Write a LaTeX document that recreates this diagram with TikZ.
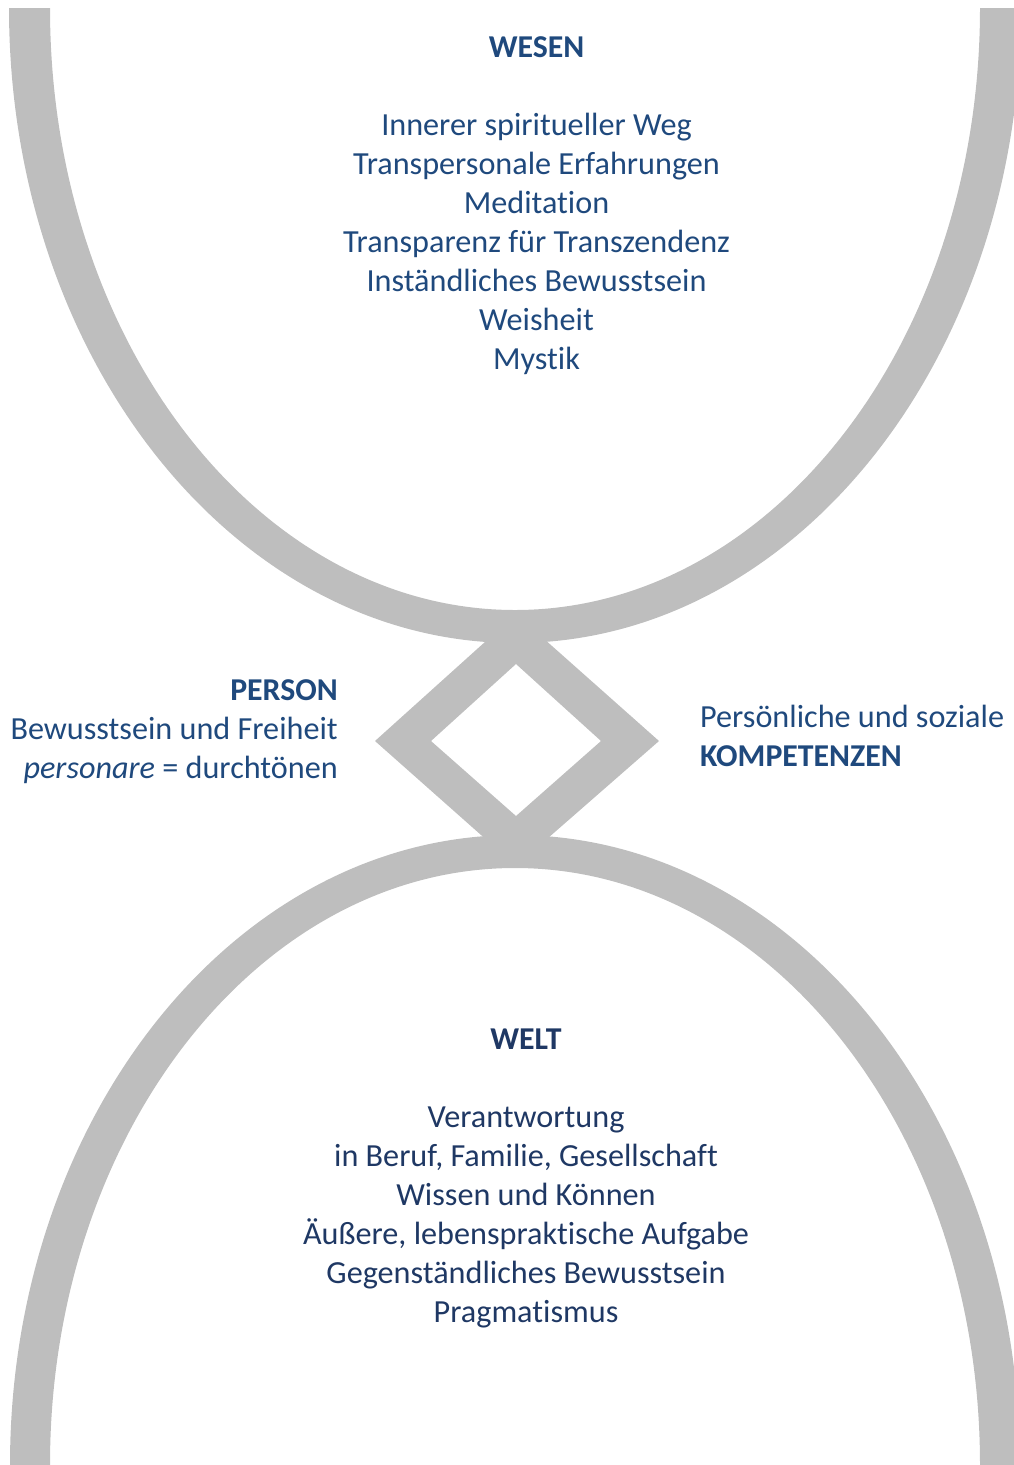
\documentclass[tikz,border=0pt]{standalone}
\usepackage{fontspec}
\setmainfont[Ligatures={NoCommon,TeX}]{Carlito}
\definecolor{bandgray}{RGB}{190,190,190}
\definecolor{textblue}{RGB}{31,73,125}
\definecolor{textnavy}{RGB}{31,56,100}
\begin{document}
\begin{tikzpicture}[x=1pt,y=1pt,
  band/.style={fill=bandgray, draw=none, even odd rule},
  txt/.style={inner sep=0pt, anchor=base, font=\fontsize{32.2}{39}\selectfont, text=textblue},
  txtb/.style={txt, font=\fontsize{31.8}{39}\selectfont\bfseries},
  ltxt/.style={txt, anchor=base east},
  ltxtb/.style={txtb, anchor=base east},
  rtxt/.style={txt, anchor=base west},
  rtxtb/.style={txtb, anchor=base west},
  navy/.style={text=textnavy}]
\useasboundingbox (0,0) rectangle (1014,-1465);
% upper bowl
\begin{scope}
  \clip (0,-8) rectangle (1014,-1465);
  \fill[band] (515,-8) ellipse [x radius=506pt, y radius=635pt]
              (515,-8) ellipse [x radius=465pt, y radius=602pt];
\end{scope}
% lower bowl
\begin{scope}
  \clip (0,0) rectangle (1014,-1465);
  \fill[band] (515,-1465) ellipse [x radius=505pt, y radius=630pt]
              (515,-1465) ellipse [x radius=465pt, y radius=597pt];
\end{scope}
% diamond
\fill[band] (375,-741) -- (516,-614) -- (659,-741) -- (516,-866) -- cycle
            (431,-741) -- (516,-664) -- (601,-741) -- (516,-816) -- cycle;
% WESEN
\node[txtb] (wesen) at (536.5,-57) {WESEN};
\node[txt] (w1) at (536.5,-135) {Innerer spiritueller Weg};
\node[txt] (w2) at (536.5,-174) {Transpersonale Erfahrungen};
\node[txt] (w3) at (536.5,-213) {Meditation};
\node[txt] (w4) at (536.5,-252) {Transparenz für Transzendenz};
\node[txt] (w5) at (536.5,-291) {Inständliches Bewusstsein};
\node[txt] (w6) at (536.5,-330) {Weisheit};
\node[txt] (w7) at (536.5,-369) {Mystik};
% PERSON
\node[ltxtb] (person) at (338,-700) {PERSON};
\node[ltxt] (p1) at (338,-739) {Bewusstsein und Freiheit};
\node[ltxt] (p2) at (338,-778) {\itshape personare\/\upshape{} = durchtönen};
% KOMPETENZEN
\node[rtxt] (k1) at (700,-727) {Persönliche und soziale};
\node[rtxtb] (k2) at (700,-766) {KOMPETENZEN};
% WELT
\node[txtb, navy] (welt) at (526,-1049) {WELT};
\node[txt, navy] (e1) at (526,-1127) {Verantwortung};
\node[txt, navy] (e2) at (526,-1166) {in Beruf, Familie, Gesellschaft};
\node[txt, navy] (e3) at (526,-1205) {Wissen und Können};
\node[txt, navy] (e4) at (526,-1244) {Äußere, lebenspraktische Aufgabe};
\node[txt, navy] (e5) at (526,-1283) {Gegenständliches Bewusstsein};
\node[txt, navy] (e6) at (526,-1322) {Pragmatismus};
\end{tikzpicture}
\end{document}
